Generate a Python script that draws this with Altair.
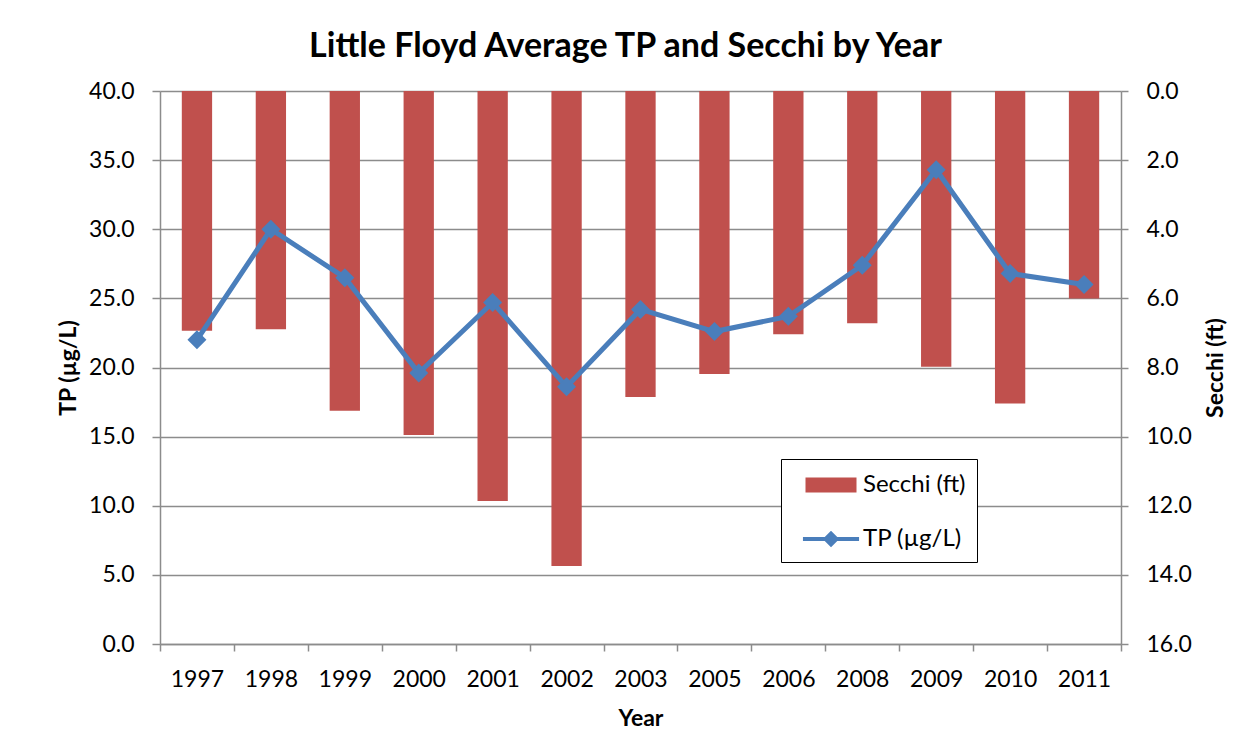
import altair as alt
import pandas as pd

years = ["1997", "1998", "1999", "2000", "2001", "2002", "2003",
         "2005", "2006", "2008", "2009", "2010", "2011"]
secchi_ft = [6.94, 6.89, 9.25, 9.95, 11.86, 13.74, 8.85, 8.19, 7.04, 6.72, 7.98, 9.04, 6.0]
tp_ugl = [22.0, 30.0, 26.5, 19.6, 24.7, 18.6, 24.2, 22.6, 23.7, 27.4, 34.3, 26.8, 26.0]
tp_ticks = [0, 5, 10, 15, 20, 25, 30, 35, 40]
secchi_ticks = [0, 2, 4, 6, 8, 10, 12, 14, 16]
series_names = ["Secchi (ft)", "TP (µg/L)"]
series_colors = ["#C0504D", "#4A7EBB"]

FONT = "Lato"
GRID = "#8C8C8C"

bars_df = pd.DataFrame({"Year": years, "value": secchi_ft, "series": series_names[0]})
line_df = pd.DataFrame({"Year": years, "value": tp_ugl, "series": series_names[1]})

rect_path = "M-1.7,-0.5L1.7,-0.5L1.7,0.5L-1.7,0.5Z"
line_path = ("M-1.87,-0.14L1.87,-0.14L1.87,0.14L-1.87,0.14Z"
             "M0,-0.55L0.55,0L0,0.55L-0.55,0Z")
shape_expr = f"datum.value == 'Secchi (ft)' ? '{rect_path}' : '{line_path}'"

legend = alt.Legend(
    orient="none", legendX=621, legendY=368, title=None,
    padding=11, rowPadding=27, symbolSize=900, symbolOffset=24, labelOffset=17,
    labelFont=FONT, labelFontSize=24, labelColor="black",
    strokeColor="black", fillColor="white", cornerRadius=0,
    symbolType=alt.ExprRef(expr=shape_expr),
    symbolStrokeWidth=0, symbolOpacity=1,
)

color_enc = alt.Color("series:N",
                      scale=alt.Scale(domain=series_names, range=series_colors),
                      legend=legend)

x_enc = alt.X("Year:N", sort=years, title="Year",
              scale=alt.Scale(paddingInner=0, paddingOuter=0),
              axis=alt.Axis(labelAngle=0, tickBand="extent",
                            labelPadding=17, titlePadding=16, grid=False))

bars = alt.Chart(bars_df).mark_bar(width=alt.RelativeBandSize(0.41)).encode(
    x=x_enc,
    y=alt.Y("value:Q",
            scale=alt.Scale(domain=[0, 16], reverse=True, nice=False),
            axis=alt.Axis(orient="right", values=secchi_ticks, format=".1f",
                          grid=False, title="Secchi (ft)", titleAngle=270,
                          titleBaseline="top", labelPadding=18, titlePadding=13)),
    color=color_enc,
)

line = alt.Chart(line_df).mark_line(
    strokeWidth=5,
    point=alt.OverlayMarkDef(shape="diamond", size=361, filled=True, opacity=1),
).encode(
    x=x_enc,
    y=alt.Y("value:Q",
            scale=alt.Scale(domain=[0, 40], nice=False),
            axis=alt.Axis(orient="left", values=tp_ticks, format=".1f",
                          grid=True, title="TP (µg/L)", labelPadding=18,
                          titlePadding=8, tickSize=8)),
    color=color_enc,
)

chart = alt.layer(bars, line).resolve_scale(y="independent").properties(
    width=961, height=553,
    padding={"left": 152, "top": 83, "right": 110, "bottom": 98},
    autosize=alt.AutoSizeParams(type="none"),
    background="white",
    title=alt.Title("Little Floyd Average TP and Secchi by Year",
                    font=FONT, fontSize=34, fontWeight="bold", color="black",
                    anchor="middle", dx=-15, dy=11, baseline="alphabetic", offset=0),
).configure_view(stroke=None).configure_axis(
    domainColor=GRID, domainWidth=1.5, tickColor=GRID, tickWidth=1.5, tickSize=7,
    gridColor=GRID, gridWidth=1.5,
    labelFont=FONT, labelFontSize=23, labelColor="black",
    titleFont=FONT, titleFontSize=23, titleFontWeight="bold", titleColor="black",
)

chart.save("out.html", embed_options={"renderer": "svg", "actions": False})
